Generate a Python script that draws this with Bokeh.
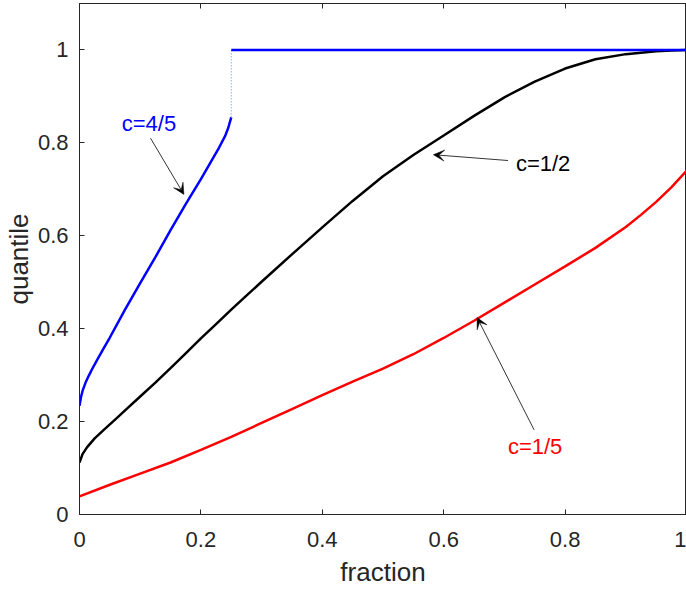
from bokeh.plotting import figure
from bokeh.models import Range1d, LinearAxis, FixedTicker, Arrow, VeeHead, Label
from bokeh.embed import file_html
from bokeh.resources import INLINE

# ---- data ----
frac_c45 = [0, 0.0025, 0.005, 0.01, 0.015, 0.02, 0.03, 0.04, 0.05, 0.075, 0.10, 0.125, 0.15,
            0.175, 0.20, 0.215, 0.23, 0.24, 0.245, 0.25]
q_c45 = [0.234, 0.253, 0.266, 0.284, 0.298, 0.311, 0.335, 0.358, 0.381, 0.441, 0.498, 0.554, 0.612,
         0.668, 0.722, 0.756, 0.790, 0.815, 0.832, 0.855]
frac_c45_flat = [0.25, 1.0]
q_c45_flat = [1.0, 1.0]
frac_c45_jump = [0.25, 0.25]
q_c45_jump = [0.855, 1.0]

frac_c12 = [0, 0.005, 0.0126, 0.025, 0.04, 0.06, 0.08, 0.10, 0.125, 0.15, 0.175, 0.20, 0.225, 0.25,
            0.275, 0.30, 0.35, 0.40, 0.45, 0.50, 0.55, 0.60, 0.65, 0.70, 0.75, 0.80, 0.85, 0.90, 0.95,
            0.975, 1.0]
q_c12 = [0.112, 0.130, 0.145, 0.164, 0.182, 0.206, 0.230, 0.254, 0.284, 0.315, 0.347, 0.379, 0.410, 0.441,
         0.471, 0.501, 0.560, 0.618, 0.675, 0.728, 0.774, 0.816, 0.858, 0.898, 0.932, 0.960, 0.980, 0.991, 0.997,
         0.999, 1.0]

frac_c15 = [0, 0.05, 0.10, 0.15, 0.20, 0.25, 0.30, 0.35, 0.40, 0.45, 0.50, 0.55, 0.60, 0.65, 0.70,
            0.75, 0.80, 0.85, 0.90, 0.925, 0.95, 0.975, 1.0]
q_c15 = [0.039, 0.064, 0.088, 0.112, 0.139, 0.167, 0.197, 0.227, 0.257, 0.286, 0.314, 0.345, 0.380, 0.417, 0.456,
         0.495, 0.534, 0.574, 0.619, 0.645, 0.673, 0.704, 0.740]

x_ticks = [0, 0.2, 0.4, 0.6, 0.8, 1.0]
x_tick_labels = ["0", "0.2", "0.4", "0.6", "0.8", "1"]
y_ticks = [0, 0.2, 0.4, 0.6, 0.8, 1.0]
y_tick_labels = ["0", "0.2", "0.4", "0.6", "0.8", "1"]

labels = ["c=4/5", "c=1/2", "c=1/5"]
label_colors = ["#0000FF", "#000000", "#FF0000"]
label_x = [0.1144, 0.7638, 0.7506]
label_y = [0.8418, 0.7559, 0.146]
arrow_start_x = [0.117, 0.706, 0.749]
arrow_start_y = [0.810, 0.762, 0.182]
arrow_end_x = [0.172, 0.583, 0.655]
arrow_end_y = [0.689, 0.7745, 0.424]

AX = "#262626"
FONT = "Liberation Sans"

p = figure(width=686, height=590, output_backend="svg", toolbar_location=None,
           x_range=Range1d(0, 1.0), y_range=Range1d(0, 1.1),
           min_border_left=79, min_border_right=0, min_border_top=3, min_border_bottom=76,
           background_fill_color="white", border_fill_color="white")
p.grid.visible = False
p.outline_line_color = AX
p.outline_line_width = 1

# main axes
for ax, ticks, lbls in ((p.xaxis[0], x_ticks, x_tick_labels), (p.yaxis[0], y_ticks, y_tick_labels)):
    ax.ticker = FixedTicker(ticks=ticks)
    ax.major_label_overrides = {t: l for t, l in zip(ticks, lbls)}
    ax.minor_tick_line_color = None
    ax.major_tick_in = 5
    ax.major_tick_out = 0
    ax.axis_line_color = AX
    ax.major_tick_line_color = AX
    ax.major_label_text_color = AX
    ax.major_label_text_font = FONT
    ax.major_label_text_font_size = "22px"
    ax.axis_label_text_color = AX
    ax.axis_label_text_font = FONT
    ax.axis_label_text_font_size = "26px"
    ax.axis_label_text_font_style = "normal"

p.xaxis[0].axis_label = "fraction"
p.yaxis[0].axis_label = "quantile"
p.xaxis[0].major_label_standoff = 17
p.xaxis[0].axis_label_standoff = 7
p.yaxis[0].major_label_standoff = 11
p.yaxis[0].axis_label_standoff = 1

# box ticks on top (no labels)
top = LinearAxis(ticker=FixedTicker(ticks=x_ticks), major_label_overrides={t: "" for t in x_ticks})
top.minor_tick_line_color = None
top.major_tick_in = 5
top.major_tick_out = 0
top.major_label_standoff = 0
top.major_label_text_font_size = "1px"
top.axis_line_color = AX
top.major_tick_line_color = AX
p.add_layout(top, "above")

# curves
p.line(frac_c15, q_c15, line_color="#FF0000", line_width=2.5)
p.line(frac_c12, q_c12, line_color="#000000", line_width=2.5)
p.line(frac_c45, q_c45, line_color="#0000FF", line_width=2.5)
p.line(frac_c45_jump, q_c45_jump, line_color="#4F8DF5", line_width=1, line_dash="1 2")
p.line(frac_c45_flat, q_c45_flat, line_color="#0000FF", line_width=2.5)

# annotations
for i in range(len(labels)):
    p.add_layout(Arrow(x_start=arrow_start_x[i], y_start=arrow_start_y[i],
                       x_end=arrow_end_x[i], y_end=arrow_end_y[i],
                       line_color="#000000", line_width=0.8,
                       end=VeeHead(size=11, fill_color="#000000", line_color="#000000", line_width=0.5)))
    p.add_layout(Label(x=label_x[i], y=label_y[i], text=labels[i], text_color=label_colors[i],
                       text_font=FONT, text_font_size="22px", text_align="center",
                       text_baseline="middle"))

open("out.html", "w").write(file_html(p, INLINE))
